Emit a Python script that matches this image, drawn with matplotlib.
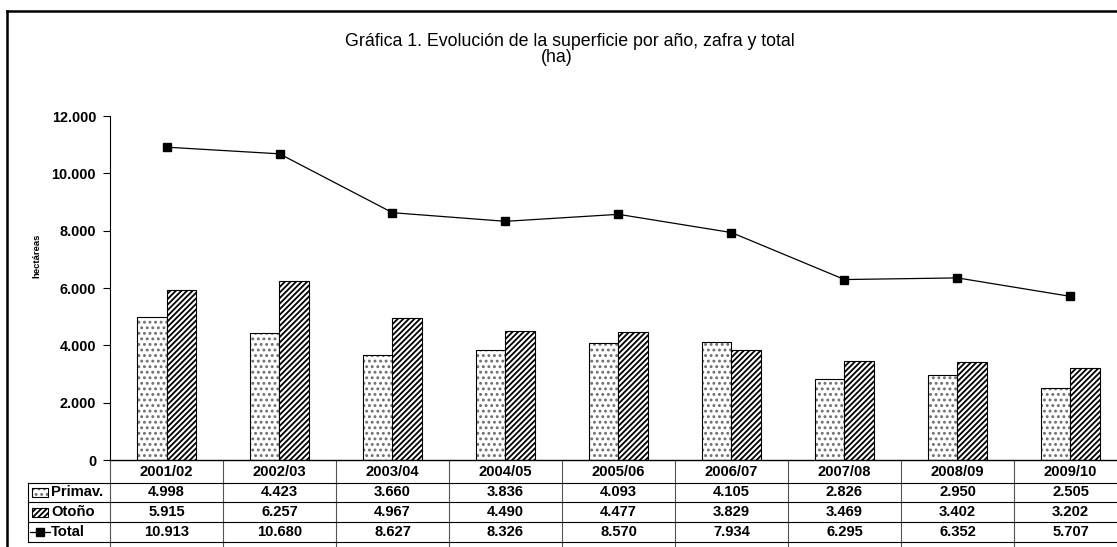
import matplotlib
matplotlib.use("Agg")
import matplotlib.pyplot as plt
from matplotlib.lines import Line2D
from matplotlib.patches import Rectangle
from matplotlib.transforms import blended_transform_factory

plt.rcParams["font.family"] = ["Liberation Sans", "DejaVu Sans"]
plt.rcParams["hatch.linewidth"] = 1.3

zafras = ["2001/02", "2002/03", "2003/04", "2004/05", "2005/06",
          "2006/07", "2007/08", "2008/09", "2009/10"]
primav = [4998, 4423, 3660, 3836, 4093, 4105, 2826, 2950, 2505]
otono = [5915, 6257, 4967, 4490, 4477, 3829, 3469, 3402, 3202]
total = [10913, 10680, 8627, 8326, 8570, 7934, 6295, 6352, 5707]

W, H = 1117, 547
fig = plt.figure(figsize=(W / 100, H / 100), dpi=100)


def fx(px):
    return px / W


def fy(py):
    return 1 - py / H


ax = fig.add_axes([fx(110), fy(460), fx(1127) - fx(110), fy(116) - fy(460)])

x = list(range(len(zafras)))
bw = 0.26
xp = [i - bw / 2 for i in x]
xo = [i + bw / 2 for i in x]

# dotted bars (gray dots), then outline
ax.bar(xp, primav, bw, color="white", edgecolor="#6e6e6e", hatch="...", lw=0)
ax.bar(xp, primav, bw, fill=False, edgecolor="black", lw=0.8)
ax.bar(xo, otono, bw, color="white", edgecolor="black", hatch="//////", lw=0.8)
ax.plot(x, total, color="black", lw=0.9, marker="s", markersize=5.5)

ax.set_xlim(-0.5, len(zafras) - 0.5)
ax.set_ylim(0, 12000)
ax.set_yticks(range(0, 12001, 2000))
ax.set_yticklabels([f"{v:,}".replace(",", ".") for v in range(0, 12001, 2000)],
                   fontsize=10.4, fontweight="bold")
ax.tick_params(axis="y", length=5, width=0.8, pad=5)
ax.set_xticks([])
for s in ["top", "right"]:
    ax.spines[s].set_visible(False)
ax.spines["left"].set_linewidth(0.8)
ax.spines["bottom"].set_linewidth(1.0)
ax.set_ylabel("hectáreas", fontsize=6.8, fontweight="bold")
ax.yaxis.set_label_coords((41 - 110) / 1017, (460 - 256) / 344)

fig.text(fx(570), fy(41), "Gráfica 1. Evolución de la superficie por año, zafra y total",
         ha="center", va="center", fontsize=12.8)
fig.text(fx(557), fy(57), "(ha)", ha="center", va="center", fontsize=12.8)

# outer frame
fig.add_artist(Line2D([fx(7), fx(7)], [fy(11), 0], color="black", lw=1.8))
fig.add_artist(Line2D([fx(7), 1], [fy(11), fy(11)], color="black", lw=1.8))

# data table under the axis
tr = blended_transform_factory(ax.transData, fig.transFigure)
for b in [i - 0.5 for i in range(len(zafras) + 1)]:
    ax.add_artist(Line2D([b, b], [fy(460), 0], transform=tr, color="#555555",
                         lw=0.8, clip_on=False))
for ry in [483, 502, 522, 542]:
    fig.add_artist(Line2D([fx(28), 1], [fy(ry), fy(ry)], color="black", lw=0.8))
fig.add_artist(Line2D([fx(28), fx(28)], [fy(483), fy(542)], color="black", lw=0.8))

for i, z in enumerate(zafras):
    ax.text(i, fy(471.5), z, transform=tr, ha="center", va="center",
            fontsize=10.6, fontweight="bold", clip_on=False)
rows = [(primav, 492.5), (otono, 512), (total, 532)]
for vals, ry in rows:
    for i, v in enumerate(vals):
        ax.text(i, fy(ry), f"{v:,}".replace(",", "."), transform=tr, ha="center",
                va="center", fontsize=10.6, fontweight="bold", clip_on=False)

labels = ["Primav.", "Otoño", "Total"]
for lab, (_, ry) in zip(labels, rows):
    fig.text(fx(51), fy(ry), lab, ha="left", va="center", fontsize=10.6,
             fontweight="bold")

fig.add_artist(Rectangle((fx(32), fy(497)), fx(16), fy(488) - fy(497),
                         facecolor="white", edgecolor="#6e6e6e", hatch="...", lw=0))
fig.add_artist(Rectangle((fx(32), fy(497)), fx(16), fy(488) - fy(497),
                         fill=False, edgecolor="black", lw=0.8))
fig.add_artist(Rectangle((fx(32), fy(516.5)), fx(16), fy(507.5) - fy(516.5),
                         facecolor="white", edgecolor="black", hatch="//////", lw=0.8))
fig.add_artist(Line2D([fx(30), fx(50)], [fy(532), fy(532)], color="black", lw=0.9))
fig.add_artist(Line2D([fx(40)], [fy(532)], color="black", marker="s",
                      markersize=5.5, lw=0))

fig.savefig("out.png", dpi=100)
